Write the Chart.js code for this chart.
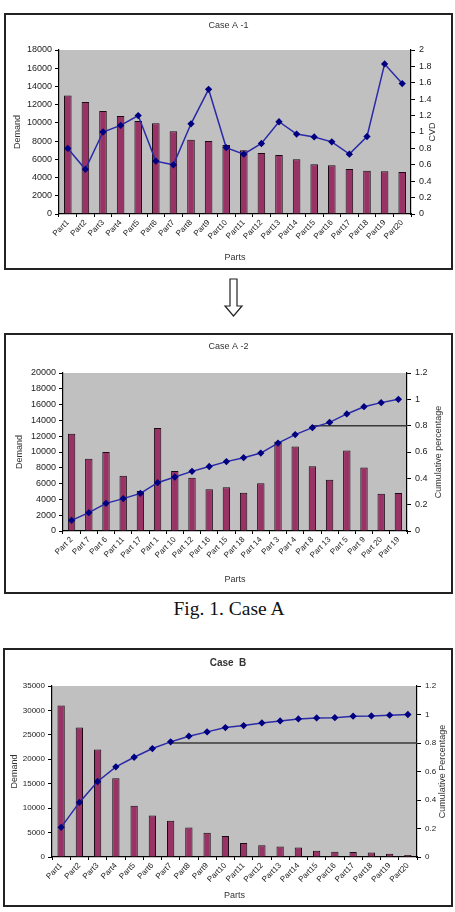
<!DOCTYPE html>
<html>
<head>
<meta charset="utf-8">
<script src="https://cdn.jsdelivr.net/npm/chart.js@4"></script>
<style>
  body { margin: 0; background: #fff; width: 455px; height: 912px; position: relative; overflow: hidden; }
  .box { position: absolute; border: 2px solid #222; box-sizing: border-box; background: #fff; }
  .box canvas { position: absolute; left: 0; top: 0; }
  #arrow { position: absolute; left: 220px; top: 277px; }
  #caption { position: absolute; left: 0; width: 458px; top: 598px; text-align: center;
             font-family: "Liberation Serif", "DejaVu Serif", serif; font-size: 19.5px; color: #111; }
</style>
</head>
<body>
<div class="box" style="left:4px;top:13px;width:449px;height:257px;"><canvas id="chartA1" width="445" height="253"></canvas></div>
<svg id="arrow" width="26" height="42">
  <polygon points="10,2 17,2 17,29 22,29 13.5,39 5,29 10,29" fill="#fff" stroke="#222" stroke-width="1.2"/>
</svg>
<div class="box" style="left:4px;top:333px;width:449px;height:261px;"><canvas id="chartA2" width="445" height="257"></canvas></div>
<div id="caption">Fig. 1. Case A</div>
<div class="box" style="left:3px;top:648px;width:450px;height:259px;"><canvas id="chartB" width="446" height="255"></canvas></div>

<script>
// Case A-1
const partsA1 = ['Part1', 'Part2', 'Part3', 'Part4', 'Part5', 'Part6', 'Part7', 'Part8', 'Part9', 'Part10',
                 'Part11', 'Part12', 'Part13', 'Part14', 'Part15', 'Part16', 'Part17', 'Part18', 'Part19', 'Part20'];
const demandA1 = [13000, 12300, 11300, 10750, 10200, 9950, 9070, 8150, 8000, 7580,
                  7000, 6700, 6480, 6000, 5450, 5340, 4950, 4760, 4690, 4610];
const cvdA1 = [0.80, 0.545, 1.0, 1.08, 1.2, 0.645, 0.60, 1.10, 1.52, 0.81,
               0.73, 0.86, 1.125, 0.975, 0.94, 0.88, 0.73, 0.945, 1.83, 1.59];
const demandTicksA1 = [0, 2000, 4000, 6000, 8000, 10000, 12000, 14000, 16000, 18000];
const cvdTicksA1 = [0, 0.2, 0.4, 0.6, 0.8, 1, 1.2, 1.4, 1.6, 1.8, 2];

// Case A-2 (sorted by CVD)
const partsA2 = ['Part 2', 'Part 7', 'Part 6', 'Part 11', 'Part 17', 'Part 1', 'Part 10', 'Part 12', 'Part 16', 'Part 15',
                 'Part 18', 'Part 14', 'Part 3', 'Part 4', 'Part 8', 'Part 13', 'Part 5', 'Part 9', 'Part 20', 'Part 19'];
const demandA2 = [12300, 9150, 10000, 7000, 5050, 13050, 7600, 6750, 5300, 5550,
                  4850, 6050, 11300, 10700, 8200, 6500, 10200, 8050, 4700, 4800];
const cumA2 = [0.081, 0.139, 0.21, 0.246, 0.286, 0.367, 0.41, 0.453, 0.49, 0.527,
               0.557, 0.592, 0.668, 0.732, 0.785, 0.825, 0.889, 0.944, 0.975, 1.0];
const demandTicksA2 = [0, 2000, 4000, 6000, 8000, 10000, 12000, 14000, 16000, 18000, 20000];
const cumTicksA2 = [0, 0.2, 0.4, 0.6, 0.8, 1, 1.2];
const thresholdA2 = 0.8;
const thresholdFromA2 = 'Part 8';

// Case B
const partsB = ['Part1', 'Part2', 'Part3', 'Part4', 'Part5', 'Part6', 'Part7', 'Part8', 'Part9', 'Part10',
                'Part11', 'Part12', 'Part13', 'Part14', 'Part15', 'Part16', 'Part17', 'Part18', 'Part19', 'Part20'];
const demandB = [31000, 26500, 22000, 16100, 10500, 8500, 7400, 6050, 4950, 4300,
                 2850, 2400, 2150, 1950, 1300, 1100, 1000, 900, 650, 400];
const cumB = [0.208, 0.383, 0.53, 0.633, 0.70, 0.761, 0.808, 0.848, 0.878, 0.908,
              0.922, 0.941, 0.955, 0.969, 0.976, 0.978, 0.988, 0.99, 0.995, 1.0];
const demandTicksB = [0, 5000, 10000, 15000, 20000, 25000, 30000, 35000];
const cumTicksB = [0, 0.2, 0.4, 0.6, 0.8, 1, 1.2];
const thresholdB = 0.8;
const thresholdFromB = 'Part7';

const FONT = '"Liberation Sans", Arial, sans-serif';

// grey plot area, optional 80% reference line, right-hand axis title read bottom-to-top
const plotDecor = {
    id: 'plotDecor',
    beforeDraw(chart) {
        const a = chart.chartArea, ctx = chart.ctx;
        ctx.save();
        ctx.fillStyle = '#c0c0c0';
        ctx.fillRect(a.left, a.top, a.right - a.left, a.bottom - a.top);
        ctx.restore();
    },
    beforeDatasetsDraw(chart, args, opt) {
        if (opt.value == null) return;
        const a = chart.chartArea, ctx = chart.ctx;
        const y = chart.scales.y1.getPixelForValue(opt.value);
        const x = chart.scales.x.getPixelForValue(chart.data.labels.indexOf(opt.from));
        ctx.save();
        ctx.strokeStyle = '#3a3a3a';
        ctx.lineWidth = 1.5;
        ctx.beginPath();
        ctx.moveTo(x, y);
        ctx.lineTo(a.right, y);
        ctx.stroke();
        ctx.restore();
    },
    afterDraw(chart, args, opt) {
        const a = chart.chartArea, ctx = chart.ctx;
        ctx.save();
        ctx.translate(chart.width - opt.titleOffset, (a.top + a.bottom) / 2);
        ctx.rotate(-Math.PI / 2);
        ctx.fillStyle = '#333';
        ctx.font = '9px ' + FONT;
        ctx.textAlign = 'center';
        ctx.textBaseline = 'middle';
        ctx.fillText(opt.title, 0, 0);
        ctx.restore();
    }
};

function fmt(v) { return String(Math.round(v * 10) / 10); }

function makeChart(id, s) {
    const ctx = document.getElementById(id).getContext('2d');
    new Chart(ctx, {
        type: 'bar',
        data: {
            labels: s.labels,
            datasets: [{
                type: 'line',
                data: s.line,
                yAxisID: 'y1',
                borderColor: '#2a2aa8',
                borderWidth: 1.5,
                pointStyle: 'rectRot',
                pointRadius: 2.6,
                pointBackgroundColor: '#000080',
                pointBorderColor: '#000080',
                tension: 0,
                order: 0
            }, {
                data: s.bars,
                yAxisID: 'y',
                backgroundColor: '#993366',
                borderColor: '#1a0a12',
                borderWidth: 1,
                categoryPercentage: 1,
                barPercentage: s.barPct,
                order: 1
            }]
        },
        options: {
            responsive: false,
            animation: false,
            layout: { padding: 0 },
            plugins: {
                legend: { display: false },
                tooltip: { enabled: false },
                title: {
                    display: true,
                    text: s.title,
                    color: '#333',
                    font: { family: FONT, size: s.titleSize, weight: s.titleWeight },
                    padding: { top: s.titlePad[0], bottom: s.titlePad[1] }
                },
                plotDecor: {
                    value: s.threshold ? s.threshold.value : null,
                    from: s.threshold ? s.threshold.from : null,
                    title: s.rightTitle,
                    titleOffset: s.rightTitleOffset
                }
            },
            scales: {
                x: {
                    offset: true,
                    grid: { display: true, drawOnChartArea: false, offset: true, color: '#000', tickLength: 3 },
                    border: { display: true, color: '#000', width: 1.2 },
                    ticks: { color: '#222', font: { family: FONT, size: 8 }, minRotation: 45, maxRotation: 45,
                             autoSkip: false, padding: 1 },
                    title: { display: true, text: 'Parts', color: '#333', font: { family: FONT, size: 9 },
                             padding: { top: 0, bottom: s.xTitlePad } },
                    afterFit(scale) { scale.height = s.xHeight; }
                },
                y: {
                    position: 'left',
                    min: s.leftTicks[0],
                    max: s.leftTicks[s.leftTicks.length - 1],
                    grid: { drawOnChartArea: false, color: '#000', tickLength: 4 },
                    border: { display: true, color: '#000', width: 1.2 },
                    ticks: { stepSize: s.leftTicks[1] - s.leftTicks[0], color: '#222', padding: 3,
                             font: { family: FONT, size: s.tickSize }, callback: v => String(v) },
                    title: { display: true, text: 'Demand', color: '#333', font: { family: FONT, size: 9 },
                             padding: { top: s.leftTitlePad, bottom: 0 } },
                    afterFit(scale) { scale.width = s.leftWidth; }
                },
                y1: {
                    position: 'right',
                    min: s.rightTicks[0],
                    max: s.rightTicks[s.rightTicks.length - 1],
                    grid: { drawOnChartArea: false, color: '#000', tickLength: 4 },
                    border: { display: true, color: '#000', width: 1.2 },
                    ticks: { stepSize: s.rightTicks[1] - s.rightTicks[0], color: '#222', padding: 4,
                             font: { family: FONT, size: s.tickSize }, callback: fmt },
                    title: { display: false },
                    afterFit(scale) { scale.width = s.rightWidth; }
                }
            }
        },
        plugins: [plotDecor]
    });
}

makeChart('chartA1', {
    labels: partsA1, bars: demandA1, line: cvdA1,
    leftTicks: demandTicksA1, rightTicks: cvdTicksA1,
    title: 'Case A -1', titleSize: 9, titleWeight: 'normal', titlePad: [5.6, 18.6],
    rightTitle: 'CVD', rightTitleOffset: 18, barPct: 0.43, tickSize: 9,
    xHeight: 54, leftWidth: 53, rightWidth: 40,
    xTitlePad: 5, leftTitlePad: 6.6,
    threshold: null
});

makeChart('chartA2', {
    labels: partsA2, bars: demandA2, line: cumA2,
    leftTicks: demandTicksA2, rightTicks: cumTicksA2,
    title: 'Case A -2', titleSize: 9, titleWeight: 'normal', titlePad: [6.6, 20.6],
    rightTitle: 'Cumulative percentage', rightTitleOffset: 12, barPct: 0.43, tickSize: 9,
    xHeight: 61, leftWidth: 57, rightWidth: 44,
    xTitlePad: 6.6, leftTitlePad: 8.6,
    threshold: { value: thresholdA2, from: thresholdFromA2 }
});

makeChart('chartB', {
    labels: partsB, bars: demandB, line: cumB,
    leftTicks: demandTicksB, rightTicks: cumTicksB,
    title: 'Case  B', titleSize: 10, titleWeight: 'bold', titlePad: [7, 17],
    rightTitle: 'Cumulative Percentage', rightTitleOffset: 8, barPct: 0.4, tickSize: 8,
    xHeight: 48, leftWidth: 47, rightWidth: 34,
    xTitlePad: 3.6, leftTitlePad: 4.6,
    threshold: { value: thresholdB, from: thresholdFromB }
});
</script>
</body>
</html>
